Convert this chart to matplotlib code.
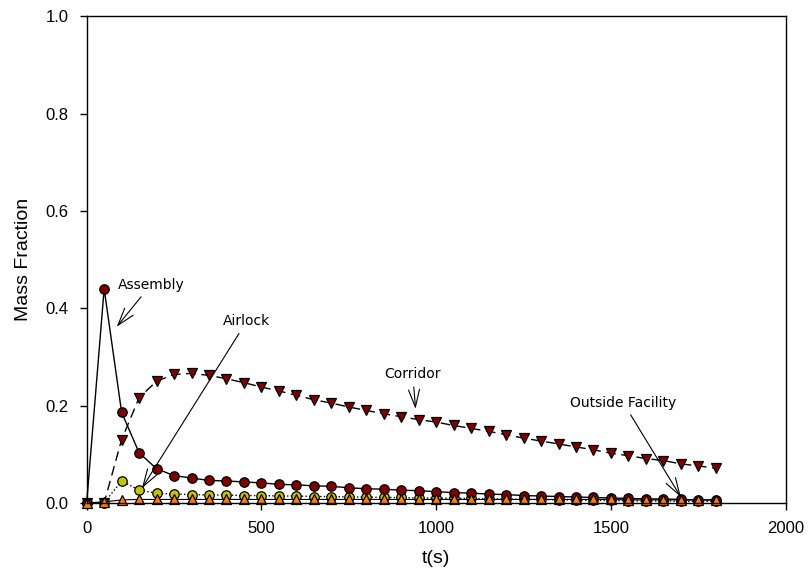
import matplotlib.pyplot as plt
import numpy as np

# sampling times (s)
t = np.arange(0, 1801, 50)

assembly = [0, 0.44, 0.186, 0.103, 0.070, 0.056, 0.051, 0.046, 0.045, 0.043,
            0.041, 0.038, 0.037, 0.035, 0.034,
            0.031, 0.029, 0.028, 0.026, 0.025, 0.023, 0.021, 0.020, 0.018,
            0.017, 0.015, 0.014, 0.013,
            0.012, 0.011, 0.010, 0.009, 0.008, 0.008, 0.007, 0.006, 0.006]

corridor = [0, 0, 0.130, 0.216, 0.250, 0.264, 0.266, 0.262, 0.255, 0.247,
            0.238, 0.230, 0.221, 0.212, 0.205,
            0.197, 0.190, 0.183, 0.177, 0.171, 0.166, 0.159, 0.153, 0.147,
            0.140, 0.133, 0.127, 0.121,
            0.115, 0.109, 0.102, 0.097, 0.091, 0.087, 0.080, 0.076, 0.071]

airlock = [0, 0, 0.045, 0.026, 0.020, 0.018, 0.017, 0.016, 0.016, 0.015,
           0.015, 0.014, 0.014, 0.013, 0.013,
           0.012, 0.012, 0.011, 0.011, 0.010, 0.010, 0.009, 0.009, 0.008,
           0.008, 0.007, 0.007, 0.006,
           0.006, 0.005, 0.005, 0.004, 0.004, 0.004, 0.003, 0.003, 0.003]

outside = [0, 0.002, 0.006, 0.007, 0.007, 0.007, 0.007, 0.007, 0.007, 0.007,
           0.007, 0.007, 0.007, 0.007, 0.007,
           0.007, 0.007, 0.007, 0.007, 0.007, 0.007, 0.007, 0.007, 0.007,
           0.007, 0.007, 0.007, 0.007,
           0.007, 0.007, 0.007, 0.006, 0.006, 0.006, 0.006, 0.006, 0.006]

xticks = [0, 500, 1000, 1500, 2000]
yticks = [0.0, 0.2, 0.4, 0.6, 0.8, 1.0]

MAROON = "#7f0000"
OLIVE = "#c4c400"
ORANGE = "#ff8000"

fig = plt.figure(figsize=(8.1, 5.82), dpi=100)
ax = fig.add_axes([0.107, 0.136, 0.863, 0.836])

mk = dict(markersize=6.8, markeredgecolor="black", markeredgewidth=0.9,
          color="black", clip_on=False)
ax.plot(t, corridor, linestyle=(0, (7, 4)), lw=1.0, marker="v", markerfacecolor=MAROON, **mk)
ax.plot(t, airlock, linestyle=":", lw=1.0, marker="o", markerfacecolor=OLIVE, **mk)
ax.plot(t, assembly, linestyle="-", lw=1.0, marker="o", markerfacecolor=MAROON, **mk)
ax.plot(t, outside, linestyle="-", lw=0.8, marker="^", markerfacecolor=ORANGE, **mk)

ax.set_xlim(0, 2000)
ax.set_ylim(0, 1.0)
ax.set_xticks(xticks)
ax.set_yticks(yticks)
ax.set_yticklabels([f"{v:.1f}" for v in yticks])
ax.tick_params(direction="out", length=5, width=1, labelsize=12, pad=8,
               top=False, right=False)
for lab in ax.get_xticklabels() + ax.get_yticklabels():
    lab.set_family("Liberation Sans")
for sp in ax.spines.values():
    sp.set_linewidth(1.0)

ax.set_xlabel("t(s)", family="Liberation Sans", fontsize=14, labelpad=10)
ax.set_ylabel("Mass Fraction", family="Liberation Sans", fontsize=14, labelpad=10)

arrow = dict(arrowstyle="->,head_length=0.7,head_width=0.22", color="black",
             lw=0.8, shrinkA=2, shrinkB=0, mutation_scale=18)
note = dict(family="DejaVu Sans", fontsize=10, va="center")
ax.annotate("Assembly", xy=(86, 0.362), xytext=(88, 0.448), ha="left",
            arrowprops=arrow, **note)
ax.annotate("Airlock", xy=(158, 0.030), xytext=(390, 0.373), ha="left",
            arrowprops=arrow, **note)
ax.annotate("Corridor", xy=(941, 0.193), xytext=(933, 0.264), ha="center",
            arrowprops=arrow, **note)
ax.annotate("Outside Facility", xy=(1700, 0.012), xytext=(1535, 0.206), ha="center",
            arrowprops=arrow, **note)

fig.savefig("out.png", dpi=100)
